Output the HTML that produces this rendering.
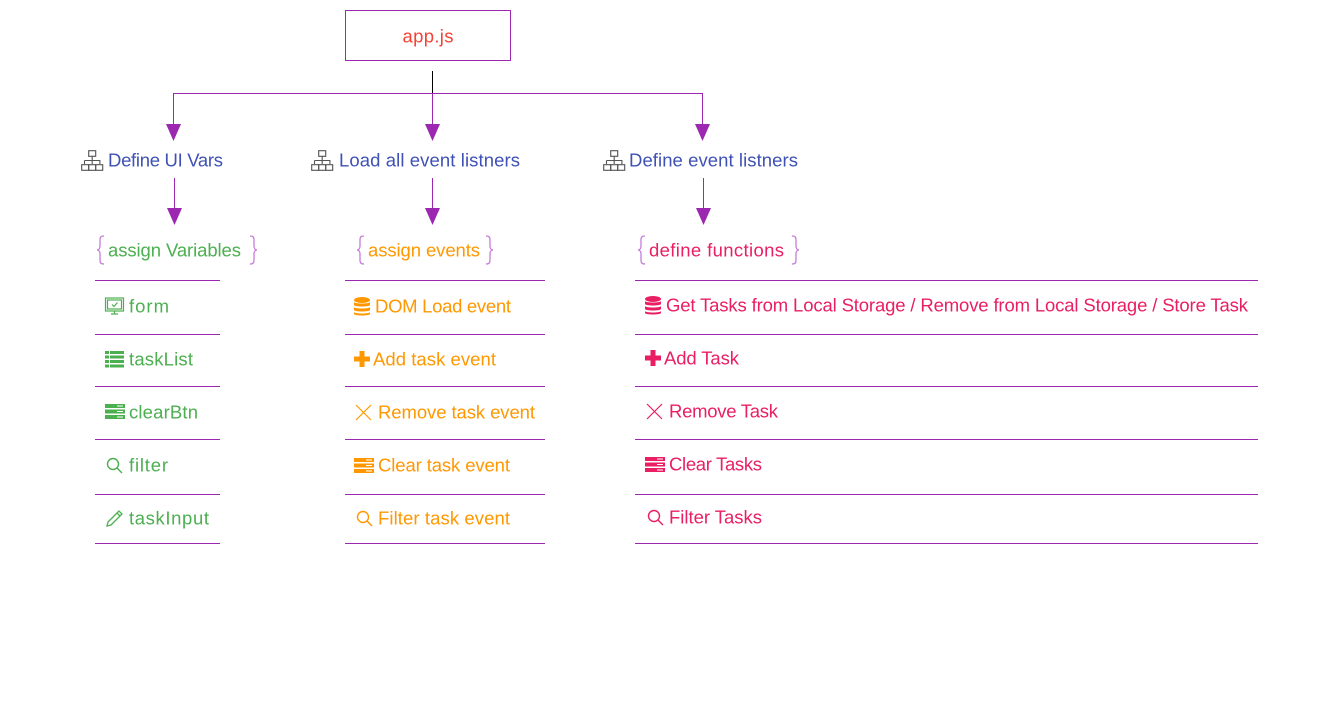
<!DOCTYPE html>
<html><head><meta charset="utf-8"><style>html,body{margin:0;padding:0;background:#fff}svg{display:block}text{font-family:"Liberation Sans",sans-serif;font-size:18.5px;dominant-baseline:central}</style></head><body>
<svg width="1322" height="704" viewBox="0 0 1322 704" xmlns="http://www.w3.org/2000/svg">
<defs>
<g id="site0" fill="none" stroke="#555" stroke-width="0.8"><rect x="5.5" y="0.5" width="5" height="4"/><path d="M8 4.5V7.5M2.5 7.5H13.5V10M2.5 7.5V10M8 7.5V10"/><rect x="0.5" y="10.5" width="5" height="4"/><rect x="5.5" y="10.5" width="5" height="4"/><rect x="10.5" y="10.5" width="5" height="4"/></g>
<g id="mon" fill="none" stroke="currentColor" stroke-width="1.2"><rect x="0.5" y="1" width="18" height="13"/><rect x="2.5" y="3" width="14" height="9"/><path d="M7 7.5l2 2 3.5-4M6 17h7M9.5 14v3"/></g>
<g id="list" fill="currentColor"><rect x="0" y="1" width="4" height="3"/><rect x="5" y="1" width="14" height="3"/><rect x="0" y="5.5" width="4" height="3"/><rect x="5" y="5.5" width="14" height="3"/><rect x="0" y="10" width="4" height="3"/><rect x="5" y="10" width="14" height="3"/><rect x="0" y="14.5" width="4" height="3"/><rect x="5" y="14.5" width="14" height="3"/></g>
<g id="srv"><rect x="0" y="1" width="20" height="4" fill="currentColor"/><rect x="0" y="6.5" width="20" height="4" fill="currentColor"/><rect x="0" y="12" width="20" height="4" fill="currentColor"/><path d="M12 3h6M12 8.5h6M12 14h6" stroke="#fff" stroke-width="1"/></g>
<g id="srch" fill="none" stroke="currentColor" stroke-width="1.4"><circle cx="7" cy="7" r="5.5"/><path d="M11 11l5 5"/></g>
<g id="pen" fill="none" stroke="currentColor" stroke-width="1.3"><path d="M2 17l1-4L14 2l3 3L6 16z M12 4l3 3"/></g>
<g id="db" fill="currentColor"><ellipse cx="8" cy="3" rx="8" ry="3"/><path d="M0 5c0 2 16 2 16 0v3c0 2-16 2-16 0z"/><path d="M0 10c0 2 16 2 16 0v3c0 2-16 2-16 0z"/><path d="M0 15c0 2 16 2 16 0v2c0 2-16 2-16 0z"/></g>
<g id="plus" fill="currentColor"><rect x="0" y="5.5" width="16" height="5"/><rect x="5.5" y="0" width="5" height="16"/></g>
<g id="x" fill="none" stroke="currentColor" stroke-width="1.2"><path d="M1 1l15 15M16 1L1 16"/></g>
</defs>
<rect x="345.5" y="10.5" width="165" height="50" fill="none" stroke="#9c27b0"/>
<text x="428" y="36" fill="#f44336" text-anchor="middle" textLength="51">app.js</text>
<path d="M432.5 71V93" stroke="#000"/>
<g stroke="#9c27b0" stroke-width="1"><path d="M173.5 93.5H702.5M173.5 93V126M432.5 93V126M702.5 93V126M174.5 178V210M432.5 178V210M703.5 178V210"/></g>
<g fill="#9c27b0"><path d="M166 124h15l-7.5 17z"/><path d="M425 124h15l-7.5 17z"/><path d="M695 124h15l-7.5 17z"/><path d="M167 208h15l-7.5 17z"/><path d="M425 208h15l-7.5 17z"/><path d="M696 208h15l-7.5 17z"/></g>
<g transform="translate(81 150) scale(1.4)"><use href="#site0"/></g>
<g transform="translate(311 150) scale(1.4)"><use href="#site0"/></g>
<g transform="translate(603 150) scale(1.4)"><use href="#site0"/></g>
<g fill="#3f51b5"><text x="108" y="160" textLength="115">Define UI Vars</text><text x="339" y="160" textLength="181">Load all event listners</text><text x="629" y="160" textLength="169">Define event listners</text></g>
<g fill="none" stroke="#c77dd8" stroke-width="1.3"><path d="M104 236c-3 0-4 1-4 4v6c0 2-1 4-3 4 2 0 3 2 3 4v6c0 3 1 4 4 4"/><path d="M250 236c3 0 4 1 4 4v6c0 2 1 4 3 4-2 0-3 2-3 4v6c0 3-1 4-4 4"/><path d="M364 236c-3 0-4 1-4 4v6c0 2-1 4-3 4 2 0 3 2 3 4v6c0 3 1 4 4 4"/><path d="M486 236c3 0 4 1 4 4v6c0 2 1 4 3 4-2 0-3 2-3 4v6c0 3-1 4-4 4"/><path d="M645 236c-3 0-4 1-4 4v6c0 2-1 4-3 4 2 0 3 2 3 4v6c0 3 1 4 4 4"/><path d="M792 236c3 0 4 1 4 4v6c0 2 1 4 3 4-2 0-3 2-3 4v6c0 3-1 4-4 4"/></g>
<text x="108" y="250" fill="#4caf50" textLength="133">assign Variables</text>
<text x="368" y="250" fill="#ff9800" textLength="112">assign events</text>
<text x="649" y="250" fill="#e91e63" textLength="135">define functions</text>
<g stroke="#9c27b0" stroke-width="1"><path d="M95 280.5H220M95 334.5H220M95 386.5H220M95 439.5H220M95 494.5H220M95 543.5H220"/><path d="M345 280.5H545M345 334.5H545M345 386.5H545M345 439.5H545M345 494.5H545M345 543.5H545"/><path d="M635 280.5H1258M635 334.5H1258M635 386.5H1258M635 439.5H1258M635 494.5H1258M635 543.5H1258"/></g>
<g color="#4caf50" fill="#4caf50"><use href="#mon" x="105" y="297"/><use href="#list" x="105" y="350"/><use href="#srv" x="105" y="403"/><use href="#srch" x="106" y="457"/><use href="#pen" x="105" y="509"/>
<text x="129" y="306" textLength="40">form</text><text x="129" y="359" textLength="64">taskList</text><text x="129" y="412" textLength="69">clearBtn</text><text x="129" y="465" textLength="39">filter</text><text x="129" y="518" textLength="80">taskInput</text></g>
<g color="#ff9800" fill="#ff9800"><use href="#db" x="354" y="297"/><use href="#plus" x="354" y="351"/><use href="#x" x="355" y="404"/><use href="#srv" x="354" y="457"/><use href="#srch" x="356" y="510"/>
<text x="375" y="306" textLength="136">DOM Load event</text><text x="373" y="359" textLength="123">Add task event</text><text x="378" y="412" textLength="157">Remove task event</text><text x="378" y="465" textLength="132">Clear task event</text><text x="378" y="518" textLength="132">Filter task event</text></g>
<g color="#e91e63" fill="#e91e63"><use href="#db" x="645" y="296"/><use href="#plus" x="645" y="350"/><use href="#x" x="646" y="403"/><use href="#srv" x="645" y="456"/><use href="#srch" x="647" y="509"/>
<text x="666" y="305" textLength="582">Get Tasks from Local Storage / Remove from Local Storage / Store Task</text><text x="664" y="358" textLength="75">Add Task</text><text x="669" y="411" textLength="109">Remove Task</text><text x="669" y="464" textLength="93">Clear Tasks</text><text x="669" y="517" textLength="93">Filter Tasks</text></g>
</svg>
</body></html>
